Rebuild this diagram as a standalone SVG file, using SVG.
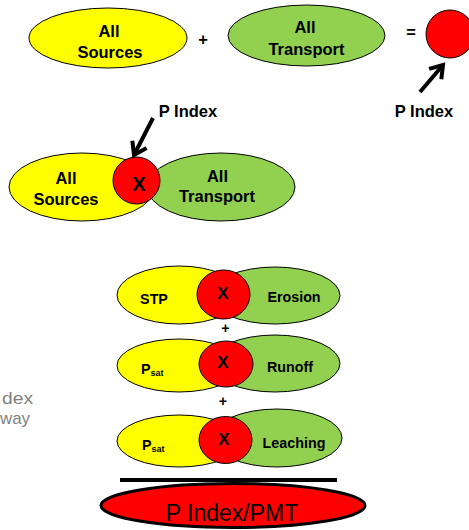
<svg xmlns="http://www.w3.org/2000/svg" width="469" height="530" viewBox="0 0 469 530">
<style>
.y{fill:#FFFF00;stroke:#000;stroke-width:1}
.g{fill:#92D050;stroke:#000;stroke-width:1}
.r{fill:#FF0000;stroke:#000;stroke-width:1}
text{font-family:"Liberation Sans",Arial,sans-serif;fill:#000}
.b{font-weight:bold;text-anchor:middle}
.l{font-size:16.5px}
.m{font-size:14.3px}
.x1{font-size:20px}
.x2{font-size:17px}
.gray{font-family:"Liberation Sans",Arial,sans-serif;font-size:17px;fill:#7f7f7f}
.arr{fill:none;stroke:#000;stroke-width:4}
</style>
<defs>
<marker id="ah" markerUnits="userSpaceOnUse" orient="auto" overflow="visible" markerWidth="1" markerHeight="1" refX="0" refY="0">
<path d="M-12,-8 L0,0 L-12,8" fill="none" stroke="#000" stroke-width="4"/>
</marker>
</defs>

<g id="top-sources"><ellipse class="y" cx="108" cy="38" rx="79" ry="30"/><text class="b l" x="109" y="37">All</text><text class="b l" x="110" y="58">Sources</text></g>
<text class="b l" x="203" y="45">+</text>
<g id="top-transport"><ellipse class="g" cx="306.5" cy="35.5" rx="78.5" ry="30.5"/><text class="b l" x="305" y="33">All</text><text class="b l" x="306.5" y="55">Transport</text></g>
<text class="b l" x="411" y="38">=</text>
<g id="top-pindex"><circle class="r" cx="450" cy="34" r="24"/></g>
<g id="top-label"><text class="b l" x="424" y="117">P Index</text></g>

<g id="mid-label"><text class="b l" x="188" y="117">P Index</text></g>
<g id="mid-sources"><ellipse class="y" cx="82" cy="187" rx="73" ry="34"/><text class="b l" x="66" y="184">All</text><text class="b l" x="66" y="205">Sources</text></g>
<g id="mid-transport"><ellipse class="g" cx="221" cy="187" rx="74" ry="34"/><text class="b l" x="217.5" y="182">All</text><text class="b l" x="217" y="202">Transport</text></g>
<g id="mid-x"><circle class="r" cx="136.5" cy="180.5" r="23.5"/><text class="b x1" x="139" y="191">X</text></g>

<g id="row1">
<ellipse class="y" cx="179" cy="295" rx="62" ry="29"/>
<ellipse class="g" cx="275" cy="295.5" rx="65" ry="28.5"/>
<ellipse class="r" cx="223.5" cy="294.5" rx="26.5" ry="24.5"/>
<text class="b m" x="154" y="304">STP</text>
<text class="b m" x="294" y="302">Erosion</text>
<text class="b x2" x="223" y="299">X</text>
</g>
<text class="b m" x="225.5" y="333">+</text>
<g id="row2">
<ellipse class="y" cx="179" cy="365.5" rx="62" ry="26.5"/>
<ellipse class="g" cx="275" cy="363.5" rx="65" ry="28.5"/>
<ellipse class="r" cx="226" cy="364" rx="27" ry="23"/>
<text x="141" y="374" font-weight="bold" font-size="14.3px">P<tspan font-size="9px" dy="2">sat</tspan></text>
<text class="b m" x="290" y="372">Runoff</text>
<text class="b x2" x="223" y="368">X</text>
</g>
<text class="b m" x="223" y="406">+</text>
<g id="row3">
<ellipse class="y" cx="179" cy="441" rx="62" ry="26"/>
<ellipse class="g" cx="277" cy="438" rx="65" ry="29"/>
<ellipse class="r" cx="225.5" cy="440" rx="26.5" ry="23.5"/>
<text x="142" y="450" font-weight="bold" font-size="14.3px">P<tspan font-size="9px" dy="2">sat</tspan></text>
<text class="b m" x="294" y="448">Leaching</text>
<text class="b x2" x="224" y="445">X</text>
</g>

<g id="connectors">
<line class="arr" x1="420" y1="92" x2="443" y2="65" marker-end="url(#ah)"/>
<line class="arr" x1="153" y1="118" x2="134" y2="155" marker-end="url(#ah)"/>
<line x1="120" y1="480" x2="337" y2="480" stroke="#000" stroke-width="4"/>
</g>

<g id="pmt"><ellipse cx="233" cy="505.5" rx="132" ry="22" fill="#FF0000" stroke="#000" stroke-width="3"/><text x="232" y="521" font-size="23px" text-anchor="middle">P Index/PMT</text></g>

<g id="gray-text"><text class="gray" x="2" y="404" textLength="31" lengthAdjust="spacingAndGlyphs">dex</text><text class="gray" x="0" y="424" textLength="30" lengthAdjust="spacingAndGlyphs">way</text></g>
</svg>
